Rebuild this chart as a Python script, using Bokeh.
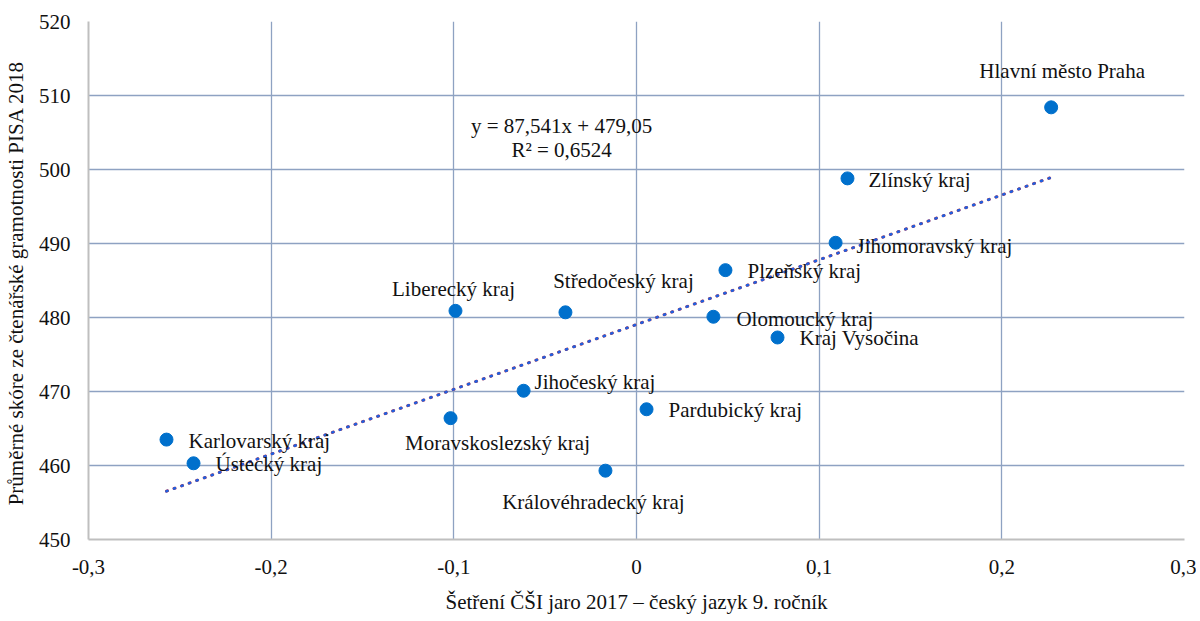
from bokeh.plotting import figure
from bokeh.models import ColumnDataSource, FixedTicker, Range1d, Label
from bokeh.core.properties import value
from bokeh.embed import file_html
from bokeh.resources import INLINE

# ---- data ----
regions = ["Hlavní město Praha", "Zlínský kraj", "Jihomoravský kraj", "Plzeňský kraj",
           "Olomoucký kraj", "Kraj Vysočina", "Středočeský kraj", "Liberecký kraj",
           "Jihočeský kraj", "Pardubický kraj", "Moravskoslezský kraj",
           "Královéhradecký kraj", "Karlovarský kraj", "Ústecký kraj"]
csi_2017 = [0.227, 0.1155, 0.109, 0.0487, 0.0421, 0.0772, -0.0389, -0.0991,
            -0.0618, 0.0055, -0.1018, -0.017, -0.2573, -0.2425]
pisa_2018 = [508.4, 498.8, 490.1, 486.4, 480.1, 477.3, 480.7, 480.9,
             470.1, 467.6, 466.4, 459.3, 463.5, 460.3]
trend_slope = 87.541
trend_intercept = 479.05
equation_text = "y = 87,541x + 479,05"
r2_text = "R² = 0,6524"
x_ticks = [-0.3, -0.2, -0.1, 0.0, 0.1, 0.2, 0.3]
x_tick_labels = ["-0,3", "-0,2", "-0,1", "0", "0,1", "0,2", "0,3"]
y_ticks = [450, 460, 470, 480, 490, 500, 510, 520]

# ---- label placement (screen px offsets; layout only) ----
label_dx = [11, 21, 21, 22, 23, 22, 58, -2, 11, 22, 47, -12, 22, 22]
label_dy = [-36, 2, 3, 1, 2, 1, -31, -22, -9, 1, 25, 31, 1, 1]
label_align = ["center", "left", "left", "left", "left", "left", "center", "center",
               "left", "left", "center", "center", "left", "left"]

FONT = "Liberation Serif"
FS = "21px"
TXT = "#111111"

p = figure(frame_width=1096, frame_height=518, output_backend="svg", toolbar_location=None,
           x_range=Range1d(-0.3, 0.3), y_range=Range1d(450, 520),
           min_border_left=84, min_border_top=21, min_border_right=12, min_border_bottom=66)
p.outline_line_color = None

# grids
p.xgrid.ticker = FixedTicker(ticks=x_ticks)
p.ygrid.ticker = FixedTicker(ticks=y_ticks)
for g in (p.xgrid, p.ygrid):
    g.grid_line_color = "#8EA2C2"
    g.grid_line_width = 1.3

# axes
p.xaxis.ticker = FixedTicker(ticks=x_ticks)
p.xaxis.major_label_overrides = {t: l for t, l in zip(x_ticks, x_tick_labels)}
p.yaxis.ticker = FixedTicker(ticks=y_ticks)
for ax in (p.xaxis, p.yaxis):
    ax.axis_line_color = "#BFBFBF"
    ax.axis_line_width = 2
    ax.major_tick_line_color = None
    ax.minor_tick_line_color = None
    ax.major_label_text_font = FONT
    ax.major_label_text_font_size = FS
    ax.major_label_text_color = TXT
    ax.axis_label_text_font = FONT
    ax.axis_label_text_font_size = FS
    ax.axis_label_text_font_style = "normal"
    ax.axis_label_text_color = TXT
p.xaxis.major_label_standoff = 14
p.yaxis.major_label_standoff = 12
p.xaxis.axis_label = "Šetření ČŠI jaro 2017 – český jazyk 9. ročník"
p.yaxis.axis_label = "Průměrné skóre ze čtenářské gramotnosti  PISA 2018"
p.xaxis.axis_label_standoff = 13
p.yaxis.axis_label_standoff = 8

# trendline
xmin, xmax = min(csi_2017), max(csi_2017)
tx = [xmin, xmax]
ty = [trend_slope * v + trend_intercept for v in tx]
p.line(tx, ty, line_color="#C03040", line_width=3.0, line_dash="1 7", line_cap="round")
p.line(tx, ty, line_color="#1F60E0", line_width=2.6, line_dash="1 7", line_cap="round")

# points
src = ColumnDataSource(dict(x=csi_2017, y=pisa_2018, name=regions,
                            dx=label_dx, dy=label_dy, align=label_align))
p.scatter("x", "y", source=src, size=13, fill_color="#0070CC", line_color="#0070CC")
p.text("x", "y", text="name", source=src, x_offset="dx", y_offset="dy",
       text_align="align", text_baseline="middle", text_font=value(FONT),
       text_font_size=FS, text_color=TXT)

# equation
p.add_layout(Label(x=-0.041, y=505.9, text=equation_text, text_align="center",
                   text_baseline="middle", text_font=FONT, text_font_size=FS,
                   text_color=TXT))
p.add_layout(Label(x=-0.041, y=502.7, text=r2_text, text_align="center",
                   text_baseline="middle", text_font=FONT, text_font_size=FS,
                   text_color=TXT))

open("out.html", "w").write(file_html(p, INLINE))
